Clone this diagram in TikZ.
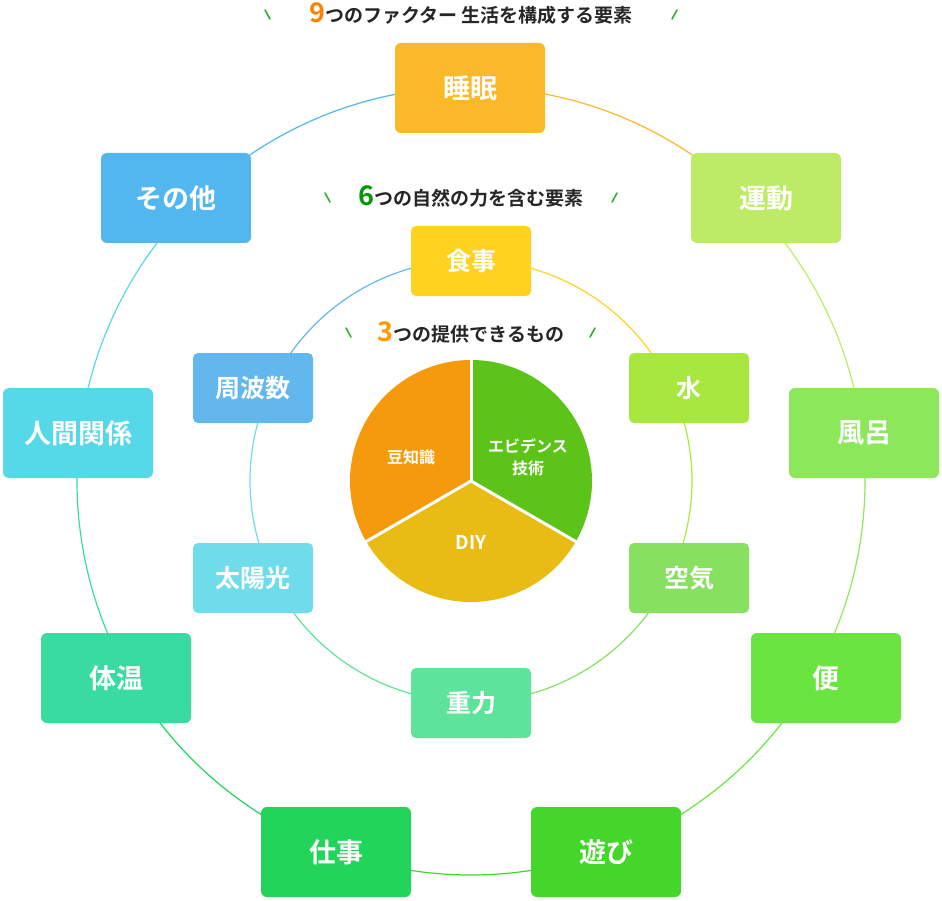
\documentclass[tikz,border=0pt]{standalone}
\usepackage{fontspec}
\usetikzlibrary{calc}
\newfontfamily\jp{Noto Sans CJK JP}[BoldFont={Noto Sans CJK JP Bold}]
\begin{document}
\begin{tikzpicture}[x=1pt,y=-1pt,
 ob/.style={rounded corners=6pt,minimum width=150pt,minimum height=90pt,text=white,font=\jp\bfseries\fontsize{27}{30}\selectfont},
 mb/.style={rounded corners=5pt,minimum width=120pt,minimum height=70pt,text=white,font=\jp\bfseries\fontsize{25}{28}\selectfont},
 tt/.style={font=\jp\bfseries\fontsize{19}{21}\selectfont,text=black!85},
 sl/.style={draw=green!60!black!80,line width=1.6pt,line cap=round}]
\useasboundingbox (0,0) rectangle (942,901);
\coordinate (c) at (471,481);
% outer ring
\foreach \a/\col in {-90/FBB829,-50/BDEB66,-10/8CE85A,30/6AE43E,70/45D62C,110/22D45A,150/3ADBA0,190/55D8E8,230/52B6EF}{
 \definecolor{tmp}{HTML}{\col}
 \draw[tmp,line width=1.2pt] ($(c)+(\a:394)$) arc[start angle=\a,delta angle=40,radius=394];}
\foreach \a/\col in {-90/FFD21F,-30/A8E83E,30/88E060,90/5EE39A,150/6EDCEA,210/62B8EC}{
 \definecolor{tmp}{HTML}{\col}
 \draw[tmp,line width=1.2pt] ($(c)+(\a:221)$) arc[start angle=\a,delta angle=60,radius=221];}
% boxes
\definecolor{c1}{HTML}{FBB829}\definecolor{c2}{HTML}{BDEB66}\definecolor{c3}{HTML}{8CE85A}
\definecolor{c4}{HTML}{6AE43E}\definecolor{c5}{HTML}{45D62C}\definecolor{c6}{HTML}{22D45A}
\definecolor{c7}{HTML}{3ADBA0}\definecolor{c8}{HTML}{55D8E8}\definecolor{c9}{HTML}{52B6EF}
\node[ob,fill=c1] (o1) at (470,88) {睡眠};
\node[ob,fill=c2] (o2) at (766,198) {運動};
\node[ob,fill=c3] (o3) at (864,433) {風呂};
\node[ob,fill=c4] (o4) at (826,678) {便};
\node[ob,fill=c5] (o5) at (606,852) {遊び};
\node[ob,fill=c6] (o6) at (336,852) {仕事};
\node[ob,fill=c7] (o7) at (116,678) {体温};
\node[ob,fill=c8] (o8) at (78,433) {人間関係};
\node[ob,fill=c9] (o9) at (176,198) {その他};
\definecolor{m1}{HTML}{FFD21F}\definecolor{m2}{HTML}{A8E83E}\definecolor{m3}{HTML}{88E060}
\definecolor{m4}{HTML}{5EE39A}\definecolor{m5}{HTML}{6EDCEA}\definecolor{m6}{HTML}{62B8EC}
\node[mb,fill=m1] (m1) at (471,261) {食事};
\node[mb,fill=m2] (m2) at (689,388) {水};
\node[mb,fill=m3] (m3) at (689,578) {空気};
\node[mb,fill=m4] (m4) at (471,703) {重力};
\node[mb,fill=m5] (m5) at (253,578) {太陽光};
\node[mb,fill=m6] (m6) at (253,388) {周波数};
% pie
\definecolor{pg}{HTML}{5CC418}\definecolor{py}{HTML}{E8BC14}\definecolor{po}{HTML}{F49A0C}
\fill[pg] (c) -- ($(c)+(-90:121)$) arc[start angle=-90,end angle=30,radius=121] -- cycle;
\fill[py] (c) -- ($(c)+(30:121)$) arc[start angle=30,end angle=150,radius=121] -- cycle;
\fill[po] (c) -- ($(c)+(150:121)$) arc[start angle=150,end angle=270,radius=121] -- cycle;
\foreach \a in {-90,30,150} \draw[white,line width=3pt] (c) -- ($(c)+(\a:122)$);
\node[text=white,font=\jp\bfseries\fontsize{16}{18}\selectfont] (p1) at (411,457) {豆知識};
\node[text=white,font=\jp\bfseries\fontsize{16}{22}\selectfont,align=center] (p2) at (528,457) {エビデンス\\技術};
\node[text=white,font=\jp\bfseries\fontsize{19}{22}\selectfont] (p3) at (471,542) {DIY};
% titles
\node[tt] (t1) at (471,14) {{\color{orange}\fontsize{27}{27}\selectfont 9}つのファクター 生活を構成する要素};
\draw[sl] (265,10) -- (270,19); \draw[sl] (677,10) -- (672,19);
\node[tt] (t2) at (471,196) {{\color{green!60!black}\fontsize{27}{27}\selectfont 6}つの自然の力を含む要素};
\draw[sl] (325,193) -- (330,202); \draw[sl] (617,193) -- (612,202);
\node[tt] (t3) at (471,332) {{\color{orange!80!yellow}\fontsize{27}{27}\selectfont 3}つの提供できるもの};
\draw[sl] (346,328) -- (351,337); \draw[sl] (595,328) -- (590,337);
\end{tikzpicture}
\end{document}
